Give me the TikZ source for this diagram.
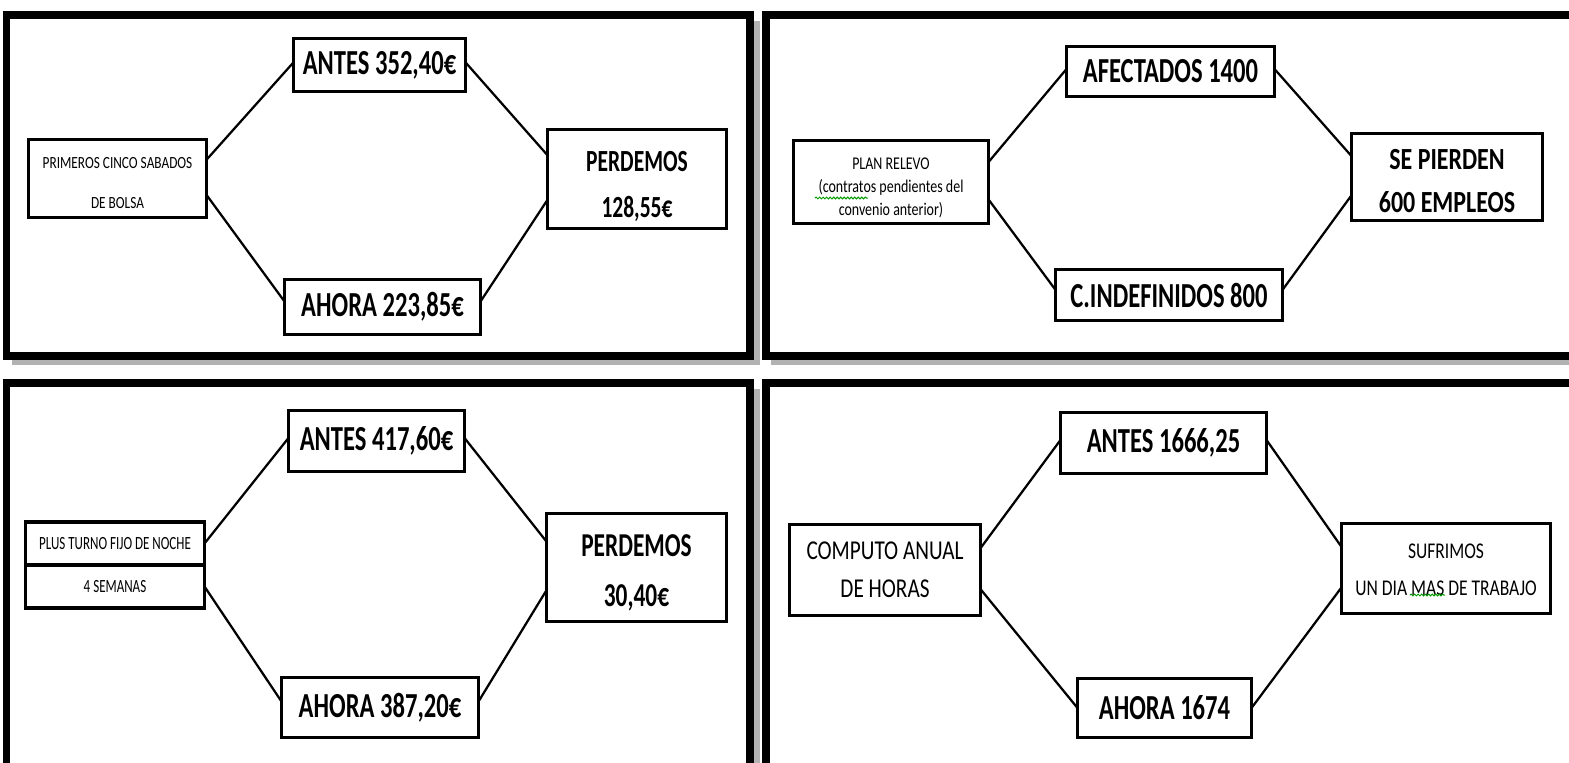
\documentclass[tikz,border=0pt]{standalone}
\usepackage{fontspec}
\newfontfamily\boxfont{Carlito}[FakeStretch=0.78]
\newfontfamily\bigfont{Carlito}[FakeStretch=0.70]
\newcommand\lift[1]{\rule{0pt}{#1}}
\usetikzlibrary{calc,decorations.pathmorphing}

\begin{document}
\begin{tikzpicture}[x=0.02cm, y=-0.02cm,
    frame/.style={draw, line width=0.16cm},
    shade/.style={draw=black!30, line width=0.14cm},
    box/.style={draw, line width=0.065cm, inner sep=0pt, outer sep=0pt, align=center},
    txt/.style 2 args={font=\boxfont\fontsize{#1}{#2}\selectfont},
    ntxt/.style 2 args={font=\bigfont\fontsize{#1}{#2}\selectfont},
    btxt/.style 2 args={font=\bigfont\fontsize{#1}{#2}\selectfont\bfseries},
    wbtxt/.style 2 args={font=\boxfont\fontsize{#1}{#2}\selectfont\bfseries},
    link/.style={line width=0.045cm},
    squiggle/.style={draw=green!60!black, line width=0.02cm, decorate,
        decoration={snake, amplitude=0.5pt, segment length=2pt}}]
    %--------------------%
    % Parameters
    %--------------------%
    \def\px{0.02cm}
    \def\hi{0.26}
    \def\lo{0.71}
    \def\tp{0.45}
    \def\bt{0.4}

    \useasboundingbox (0,0) rectangle (1569,762);

    %--------------------%
    % Frames
    %--------------------%
    \draw[shade] (12,361.5) -- (756,361.5) -- (756,21);
    \draw[shade] (771,361.5) -- (1580,361.5);
    \draw[shade] (756,780) -- (756,389);
    \draw[frame] (6.5,15) rectangle (750,355.5);
    \draw[frame] (765.5,15) rectangle (1580,355.5);
    \draw[frame] (6.5,383) rectangle (750,780);
    \draw[frame] (765.5,383) rectangle (1580,780);

    %--------------------%
    % Panel 1
    %--------------------%
    \node[box, txt={9.7}{22.8}, minimum width=178*\px, minimum height=78*\px] (prim) at (117.5,178.5) {\lift{11.5pt}PRIMEROS CINCO SABADOS\\DE BOLSA};
    \node[box, btxt={20}{22}, minimum width=172*\px, minimum height=53*\px] (antesA) at (379.5,65) {ANTES 352,40€};
    \node[box, btxt={20}{22}, minimum width=196*\px, minimum height=55*\px] (ahoraA) at (382.5,307) {AHORA 223,85€};
    \node[box, btxt={17.5}{26.7}, minimum width=179*\px, minimum height=99*\px] (perdA) at (637,179) {\lift{20pt}PERDEMOS\\128,55€};

    %--------------------%
    % Panel 2
    %--------------------%
    \node[box, txt={10.2}{13}, minimum width=195*\px, minimum height=83*\px] (plan) at (891,182) {\lift{13.4pt}PLAN RELEVO\\(contratos pendientes del\\convenio anterior)};
    \node[box, btxt={20}{22}, minimum width=208*\px, minimum height=50*\px] (afect) at (1170.5,71.5) {AFECTADOS 1400};
    \node[box, btxt={20}{22}, minimum width=227*\px, minimum height=51*\px] (cind) at (1169,295) {C.INDEFINIDOS 800};
    \node[box, wbtxt={17.5}{24.5}, minimum width=191*\px, minimum height=87*\px] (sepi) at (1447,177) {\lift{16pt}SE PIERDEN\\600 EMPLEOS};

    %--------------------%
    % Panel 3
    %--------------------%
    \node[box, ntxt={10.6}{13}, minimum width=179*\px, minimum height=43*\px] (plus) at (115,543.5) {PLUS TURNO FIJO DE NOCHE};
    \node[box, ntxt={10.6}{13}, minimum width=179*\px, minimum height=43*\px] (sem) at (115,586.5) {4 SEMANAS};
    \node[box, btxt={20}{22}, minimum width=176*\px, minimum height=61*\px] (antesC) at (376.5,441) {ANTES 417,60€};
    \node[box, btxt={20}{22}, minimum width=197*\px, minimum height=60*\px] (ahoraC) at (380,707.5) {AHORA 387,20€};
    \node[box, btxt={19}{28.5}, minimum width=180*\px, minimum height=108*\px] (perdC) at (636.5,567.5) {\lift{18pt}PERDEMOS\\30,40€};

    %--------------------%
    % Panel 4
    %--------------------%
    \node[box, txt={15.5}{21.6}, minimum width=191*\px, minimum height=91*\px] (comp) at (885,570) {COMPUTO ANUAL\\DE HORAS};
    \node[box, btxt={20}{22}, minimum width=206*\px, minimum height=61*\px] (antesD) at (1163.5,443) {ANTES 1666,25};
    \node[box, btxt={20}{22}, minimum width=174*\px, minimum height=59*\px] (ahoraD) at (1164.5,708) {AHORA 1674};
    \node[box, txt={12.8}{21}, minimum width=209*\px, minimum height=90*\px] (sufr) at (1446,568.5) {\lift{10pt}SUFRIMOS\\UN DIA MAS DE TRABAJO};

    %--------------------%
    % Connections
    %--------------------%
    % Panel 1
    \draw[link] ($(prim.north east)!\hi!(prim.south east)$) -- ($(antesA.north west)!\tp!(antesA.south west)$);
    \draw[link] ($(prim.north east)!\lo!(prim.south east)$) -- ($(ahoraA.north west)!\bt!(ahoraA.south west)$);
    \draw[link] ($(antesA.north east)!\tp!(antesA.south east)$) -- ($(perdA.north west)!\hi!(perdA.south west)$);
    \draw[link] ($(ahoraA.north east)!\bt!(ahoraA.south east)$) -- ($(perdA.north west)!\lo!(perdA.south west)$);

    % Panel 2
    \draw[link] ($(plan.north east)!\hi!(plan.south east)$) -- ($(afect.north west)!\tp!(afect.south west)$);
    \draw[link] ($(plan.north east)!\lo!(plan.south east)$) -- ($(cind.north west)!\bt!(cind.south west)$);
    \draw[link] ($(afect.north east)!\tp!(afect.south east)$) -- ($(sepi.north west)!\hi!(sepi.south west)$);
    \draw[link] ($(cind.north east)!\bt!(cind.south east)$) -- ($(sepi.north west)!\lo!(sepi.south west)$);

    % Panel 3
    \draw[link] (plus.east) -- ($(antesC.north west)!\tp!(antesC.south west)$);
    \draw[link] (sem.east) -- ($(ahoraC.north west)!\bt!(ahoraC.south west)$);
    \draw[link] ($(antesC.north east)!\tp!(antesC.south east)$) -- ($(perdC.north west)!\hi!(perdC.south west)$);
    \draw[link] ($(ahoraC.north east)!\bt!(ahoraC.south east)$) -- ($(perdC.north west)!\lo!(perdC.south west)$);

    % Panel 4
    \draw[link] ($(comp.north east)!\hi!(comp.south east)$) -- ($(antesD.north west)!\tp!(antesD.south west)$);
    \draw[link] ($(comp.north east)!\lo!(comp.south east)$) -- ($(ahoraD.north west)!0.5!(ahoraD.south west)$);
    \draw[link] ($(antesD.north east)!\tp!(antesD.south east)$) -- ($(sufr.north west)!\hi!(sufr.south west)$);
    \draw[link] ($(ahoraD.north east)!0.5!(ahoraD.south east)$) -- ($(sufr.north west)!\lo!(sufr.south west)$);

    % spelling marks
    \draw[squiggle] (815,198) -- (868,198);
    \draw[squiggle] (1410,595) -- (1445,595);

\end{tikzpicture}
\end{document}
